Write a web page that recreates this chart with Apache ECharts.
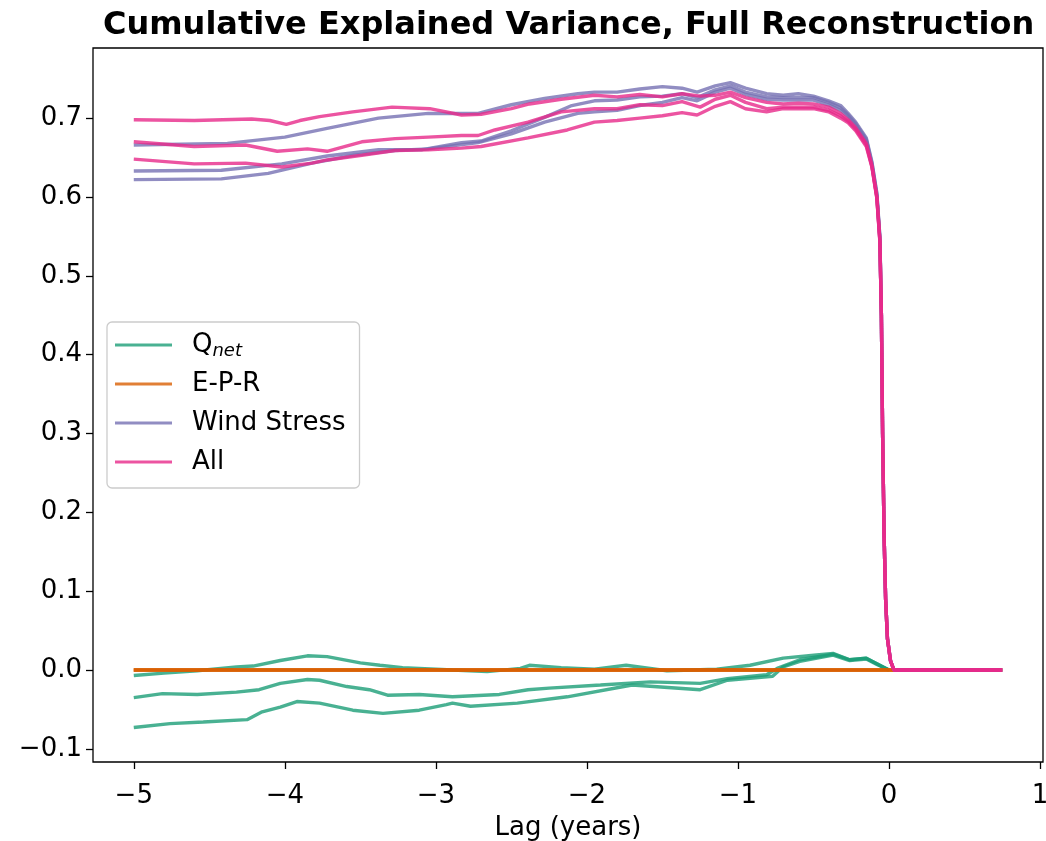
<!DOCTYPE html>
<html>
<head>
<meta charset="utf-8">
<script src="https://cdn.jsdelivr.net/npm/echarts@6/dist/echarts.min.js"></script>
<style>
  html, body { margin: 0; padding: 0; background: #fff; }
  #main { width: 1046px; height: 841px; }
</style>
</head>
<body>
<div id="main"></div>
<script>
// tick values
var xTicks = [-5, -4, -3, -2, -1, 0, 1];
var yTicks = [-0.1, 0, 0.1, 0.2, 0.3, 0.4, 0.5, 0.6, 0.7];

// Q_net runs (green)
var qnet1 = [[-5.00,-0.007],[-4.80,-0.004],[-4.58,-0.001],[-4.32,0.004],[-4.21,0.005],[-4.03,0.012],[-3.85,0.018],[-3.72,0.017],[-3.50,0.009],[-3.37,0.006],[-3.22,0.003],[-2.89,0.000],[-2.66,-0.002],[-2.44,0.002],[-2.38,0.006],[-2.17,0.003],[-1.95,0.001],[-1.91,0.002],[-1.74,0.006],[-1.47,-0.001],[-1.14,0.001],[-0.92,0.006],[-0.70,0.015],[-0.48,0.019],[-0.37,0.021],[-0.26,0.013],[-0.15,0.015],[-0.08,0.008],[0.0,0.0]];
var qnet2 = [[-5.00,-0.035],[-4.81,-0.030],[-4.58,-0.031],[-4.32,-0.028],[-4.17,-0.025],[-4.03,-0.017],[-3.85,-0.012],[-3.77,-0.013],[-3.59,-0.021],[-3.44,-0.025],[-3.32,-0.032],[-3.11,-0.031],[-2.89,-0.034],[-2.58,-0.031],[-2.39,-0.025],[-2.25,-0.023],[-1.91,-0.019],[-1.58,-0.015],[-1.25,-0.017],[-1.07,-0.011],[-0.81,-0.006],[-0.74,0.002],[-0.59,0.013],[-0.37,0.020],[-0.26,0.013],[-0.15,0.015],[-0.08,0.008],[0.0,0.0]];
var qnet3 = [[-5.00,-0.073],[-4.76,-0.068],[-4.54,-0.066],[-4.25,-0.063],[-4.15,-0.053],[-4.03,-0.047],[-3.92,-0.040],[-3.77,-0.042],[-3.55,-0.051],[-3.35,-0.055],[-3.11,-0.051],[-2.93,-0.044],[-2.89,-0.042],[-2.77,-0.046],[-2.46,-0.042],[-2.13,-0.034],[-1.70,-0.019],[-1.25,-0.025],[-1.07,-0.013],[-0.77,-0.008],[-0.70,0.004],[-0.59,0.011],[-0.37,0.019],[-0.26,0.012],[-0.15,0.014],[-0.08,0.007],[0.0,0.0]];

// E-P-R runs (orange), all zero
var epr = [[-5.00,0.0],[0.75,0.0]];

// Wind stress runs (purple)
var wind1 = [[-5.00,0.666],[-4.38,0.668],[-4.00,0.676],[-3.72,0.687],[-3.38,0.700],[-3.05,0.706],[-2.72,0.706],[-2.50,0.717],[-2.28,0.725],[-2.06,0.731],[-1.95,0.733],[-1.80,0.733],[-1.65,0.737],[-1.50,0.740],[-1.37,0.738],[-1.27,0.733],[-1.15,0.741],[-1.05,0.745],[-0.95,0.738],[-0.81,0.731],[-0.70,0.729],[-0.60,0.731],[-0.50,0.728],[-0.40,0.722],[-0.32,0.716],[-0.27,0.706],[-0.22,0.695],[-0.15,0.675],[-0.113,0.645],[-0.08,0.605],[-0.06,0.550],[-0.05,0.45],[-0.042,0.30],[-0.032,0.17],[-0.022,0.09],[-0.01,0.04],[0.01,0.012],[0.033,0.0],[0.75,0.0]];
var wind2 = [[-5.00,0.633],[-4.42,0.634],[-4.02,0.642],[-3.72,0.652],[-3.38,0.660],[-3.09,0.660],[-2.83,0.669],[-2.70,0.671],[-2.50,0.684],[-2.28,0.701],[-2.10,0.716],[-1.95,0.722],[-1.80,0.723],[-1.65,0.727],[-1.50,0.728],[-1.37,0.731],[-1.27,0.726],[-1.15,0.736],[-1.05,0.741],[-0.95,0.733],[-0.81,0.727],[-0.70,0.726],[-0.50,0.726],[-0.40,0.720],[-0.32,0.713],[-0.27,0.704],[-0.22,0.693],[-0.15,0.673],[-0.113,0.643],[-0.08,0.603],[-0.06,0.548],[-0.05,0.45],[-0.042,0.30],[-0.032,0.17],[-0.022,0.09],[-0.01,0.04],[0.01,0.012],[0.033,0.0],[0.75,0.0]];
var wind3 = [[-5.00,0.622],[-4.42,0.623],[-4.11,0.630],[-3.82,0.643],[-3.54,0.653],[-3.27,0.659],[-3.05,0.661],[-2.72,0.669],[-2.50,0.680],[-2.28,0.695],[-2.06,0.706],[-1.95,0.708],[-1.80,0.710],[-1.65,0.716],[-1.50,0.720],[-1.37,0.726],[-1.27,0.722],[-1.15,0.733],[-1.05,0.738],[-0.95,0.730],[-0.81,0.724],[-0.70,0.723],[-0.50,0.723],[-0.40,0.717],[-0.32,0.710],[-0.27,0.702],[-0.22,0.691],[-0.15,0.671],[-0.113,0.641],[-0.08,0.601],[-0.06,0.546],[-0.05,0.45],[-0.042,0.30],[-0.032,0.17],[-0.022,0.09],[-0.01,0.04],[0.01,0.012],[0.033,0.0],[0.75,0.0]];

// All forcings (pink)
var all1 = [[-5.00,0.698],[-4.60,0.697],[-4.22,0.699],[-4.10,0.697],[-3.99,0.692],[-3.90,0.697],[-3.77,0.702],[-3.55,0.708],[-3.29,0.714],[-3.04,0.712],[-2.83,0.704],[-2.70,0.705],[-2.50,0.712],[-2.38,0.718],[-2.17,0.724],[-1.95,0.729],[-1.80,0.727],[-1.65,0.730],[-1.50,0.727],[-1.37,0.731],[-1.25,0.728],[-1.15,0.729],[-1.05,0.733],[-0.95,0.726],[-0.81,0.720],[-0.70,0.718],[-0.60,0.719],[-0.50,0.718],[-0.40,0.714],[-0.32,0.706],[-0.27,0.698],[-0.22,0.688],[-0.15,0.668],[-0.113,0.640],[-0.08,0.600],[-0.06,0.545],[-0.05,0.45],[-0.042,0.30],[-0.032,0.17],[-0.022,0.09],[-0.01,0.04],[0.01,0.012],[0.033,0.0],[0.75,0.0]];
var all2 = [[-5.00,0.670],[-4.60,0.664],[-4.26,0.666],[-4.05,0.658],[-3.85,0.661],[-3.72,0.658],[-3.49,0.670],[-3.27,0.674],[-3.05,0.676],[-2.83,0.678],[-2.72,0.678],[-2.61,0.685],[-2.39,0.695],[-2.17,0.708],[-1.95,0.712],[-1.80,0.712],[-1.65,0.717],[-1.50,0.716],[-1.37,0.721],[-1.25,0.714],[-1.15,0.724],[-1.05,0.729],[-0.95,0.720],[-0.81,0.712],[-0.70,0.714],[-0.50,0.714],[-0.40,0.710],[-0.32,0.703],[-0.27,0.696],[-0.22,0.686],[-0.15,0.666],[-0.113,0.639],[-0.08,0.599],[-0.06,0.544],[-0.05,0.45],[-0.042,0.30],[-0.032,0.17],[-0.022,0.09],[-0.01,0.04],[0.01,0.012],[0.033,0.0],[0.75,0.0]];
var all3 = [[-5.00,0.648],[-4.60,0.642],[-4.26,0.643],[-4.02,0.638],[-3.82,0.643],[-3.72,0.647],[-3.49,0.653],[-3.27,0.659],[-3.05,0.660],[-2.83,0.662],[-2.70,0.664],[-2.39,0.675],[-2.13,0.685],[-1.95,0.695],[-1.80,0.697],[-1.65,0.700],[-1.50,0.703],[-1.37,0.707],[-1.27,0.704],[-1.15,0.715],[-1.05,0.721],[-0.95,0.712],[-0.81,0.708],[-0.70,0.712],[-0.50,0.712],[-0.40,0.708],[-0.32,0.700],[-0.27,0.694],[-0.22,0.684],[-0.15,0.664],[-0.113,0.638],[-0.08,0.598],[-0.06,0.543],[-0.05,0.45],[-0.042,0.30],[-0.032,0.17],[-0.022,0.09],[-0.01,0.04],[0.01,0.012],[0.033,0.0],[0.75,0.0]];

var FONT = 'DejaVu Sans';
var cGreen = 'rgba(27,158,119,0.8)';
var cOrange = 'rgba(217,95,2,0.8)';
var cPurple = 'rgba(117,112,179,0.8)';
var cPink = 'rgba(231,41,138,0.8)';

function mkLine(name, data, color) {
  return {
    name: name, type: 'line', data: data,
    showSymbol: false, symbol: 'none', animation: false,
    color: color,
    itemStyle: { color: color },
    lineStyle: { color: color, width: 3.4 }
  };
}

var myChart = echarts.init(document.getElementById('main'), null, { renderer: 'canvas' });
myChart.setOption({
  backgroundColor: '#fff',
  animation: false,
  title: {
    text: 'Cumulative Explained Variance, Full Reconstruction',
    left: 103,
    top: 5,
    padding: [5, 0, 5, 0],
    textStyle: { fontFamily: FONT, fontWeight: 'bold', fontSize: 32, color: '#000' }
  },
  grid: {
    left: 93, top: 48, width: 950, height: 714,
    outerBoundsMode: 'none',
    containLabel: false,
    show: true, borderColor: '#000', borderWidth: 1.3, backgroundColor: 'transparent'
  },
  legend: {
    orient: 'vertical',
    left: 107, top: 322,
    padding: [8, 14, 11, 8],
    backgroundColor: 'rgba(255,255,255,0.8)',
    borderColor: '#cccccc', borderWidth: 1.3, borderRadius: 5,
    icon: 'rect',
    itemWidth: 57, itemHeight: 3,
    itemGap: 9,
    data: ['Qnet', 'E-P-R', 'Wind Stress', 'All'],
    formatter: function (n) {
      if (n === 'Qnet') return '{q|Q}{s|net}';
      return n;
    },
    textStyle: {
      fontFamily: FONT, fontSize: 26, color: '#000', lineHeight: 30,
      padding: [0, 0, 0, 15],
      rich: {
        q: { fontFamily: FONT, fontSize: 26, color: '#000' },
        s: { fontFamily: FONT, fontSize: 18, fontStyle: 'italic', color: '#000', padding: [12, 0, 0, 0] }
      }
    }
  },
  xAxis: {
    type: 'value',
    min: -5.27, max: 1.02,
    name: 'Lag (years)',
    nameLocation: 'middle',
    nameGap: 53,
    nameTextStyle: { fontFamily: FONT, fontSize: 26, color: '#000' },
    axisLine: { show: false, onZero: false },
    splitLine: { show: false },
    axisTick: { show: true, length: 7, lineStyle: { color: '#000', width: 1.3 }, customValues: xTicks },
    axisLabel: {
      fontFamily: FONT, fontSize: 26, color: '#000', margin: 21,
      customValues: xTicks,
      formatter: function (v) { return String(v).replace('-', '\u2212'); }
    }
  },
  yAxis: {
    type: 'value',
    min: -0.1167, max: 0.789,
    axisLine: { show: false, onZero: false },
    splitLine: { show: false },
    axisTick: { show: true, length: 7, lineStyle: { color: '#000', width: 1.3 }, customValues: yTicks },
    axisLabel: {
      fontFamily: FONT, fontSize: 26, color: '#000', margin: 11,
      customValues: yTicks,
      formatter: function (v) { return v.toFixed(1).replace('-', '\u2212'); }
    }
  },
  series: [
    mkLine('Qnet', qnet1, cGreen),
    mkLine('Qnet', qnet2, cGreen),
    mkLine('Qnet', qnet3, cGreen),
    mkLine('E-P-R', epr, cOrange),
    mkLine('E-P-R', epr, cOrange),
    mkLine('E-P-R', epr, cOrange),
    mkLine('Wind Stress', wind1, cPurple),
    mkLine('Wind Stress', wind2, cPurple),
    mkLine('Wind Stress', wind3, cPurple),
    mkLine('All', all1, cPink),
    mkLine('All', all2, cPink),
    mkLine('All', all3, cPink)
  ]
});
</script>
</body>
</html>
